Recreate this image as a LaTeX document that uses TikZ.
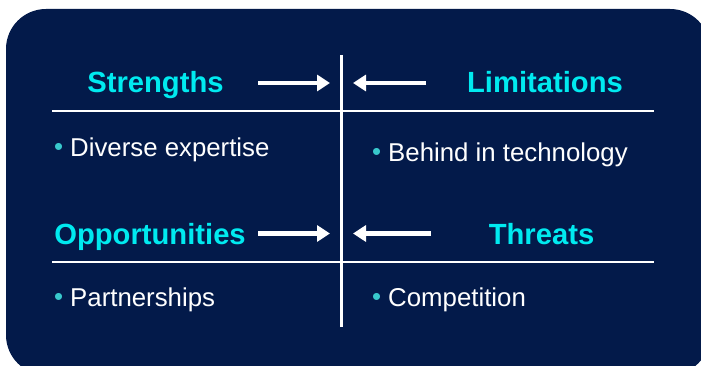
\documentclass[tikz,border=0pt]{standalone}
\usepackage{fontspec}
\setmainfont{Liberation Sans}
\usetikzlibrary{arrows.meta, positioning}
\definecolor{swotnavy}{RGB}{3, 26, 74}
\definecolor{swotcyan}{RGB}{0, 234, 240}
\definecolor{dotteal}{RGB}{56, 200, 204}

\newcommand{\dotmark}{\textcolor{dotteal}{\raisebox{1pt}{\textbullet}}}

\tikzset{
  heading/.style={font=\fontsize{29.2}{34}\selectfont\bfseries, text=swotcyan, inner sep=0pt, anchor=base},
  entry/.style={font=\fontsize{25.8}{30}\selectfont, text=white, inner sep=0pt, anchor=base west},
  divline/.style={white, line width=2.5pt},
  pointer/.style={white, line width=4.5pt, -{Triangle[length=13pt, width=16pt]}}
}

\begin{document}
\begin{tikzpicture}[x=1pt, y=-1pt]
  \path[use as bounding box, clip] (0,0) rectangle (701,366);

  % Navy panel
  \fill[swotnavy, rounded corners=40pt] (6,9) rectangle (710,375);

  % Cross dividers
  \coordinate (vtop) at (341.5,55);
  \coordinate (vbot) at (341.5,327);
  \coordinate (upl) at (52,111);
  \coordinate (upr) at (654,111);
  \coordinate (lol) at (52,262);
  \coordinate (lor) at (654,262);
  \draw[divline] (vtop) -- (vbot);
  \draw[divline] (upl) -- (upr);
  \draw[divline] (lol) -- (lor);

  % Headings
  \node[heading] (str) at (155.5,93) {Strengths};
  \node[heading] (lim) at (545,93) {Limitations};
  \node[heading] (opp) at (150,244) {Opportunities};
  \node[heading] (thr) at (541.5,244) {Threats};

  % Arrows pointing at the centre line
  \coordinate (strtail) at (258,83);
  \coordinate (strtip) at (330,83);
  \coordinate (limtail) at (426,83);
  \coordinate (limtip) at (353,83);
  \coordinate (opptail) at (258,233.5);
  \coordinate (opptip) at (330,233.5);
  \coordinate (thrtail) at (431,233.5);
  \coordinate (thrtip) at (353,233.5);
  \draw[pointer] (strtail) -- (strtip);
  \draw[pointer] (limtail) -- (limtip);
  \draw[pointer] (opptail) -- (opptip);
  \draw[pointer] (thrtail) -- (thrtip);

  % Bullet entries
  \node[entry] (div) at (53.8,157) {\dotmark{} Diverse expertise};
  \node[entry] (beh) at (371.8,162) {\dotmark{} Behind in technology};
  \node[entry] (par) at (53.8,306) {\dotmark{} Partnerships};
  \node[entry] (com) at (371.8,306) {\dotmark{} Competition};
\end{tikzpicture}
\end{document}
